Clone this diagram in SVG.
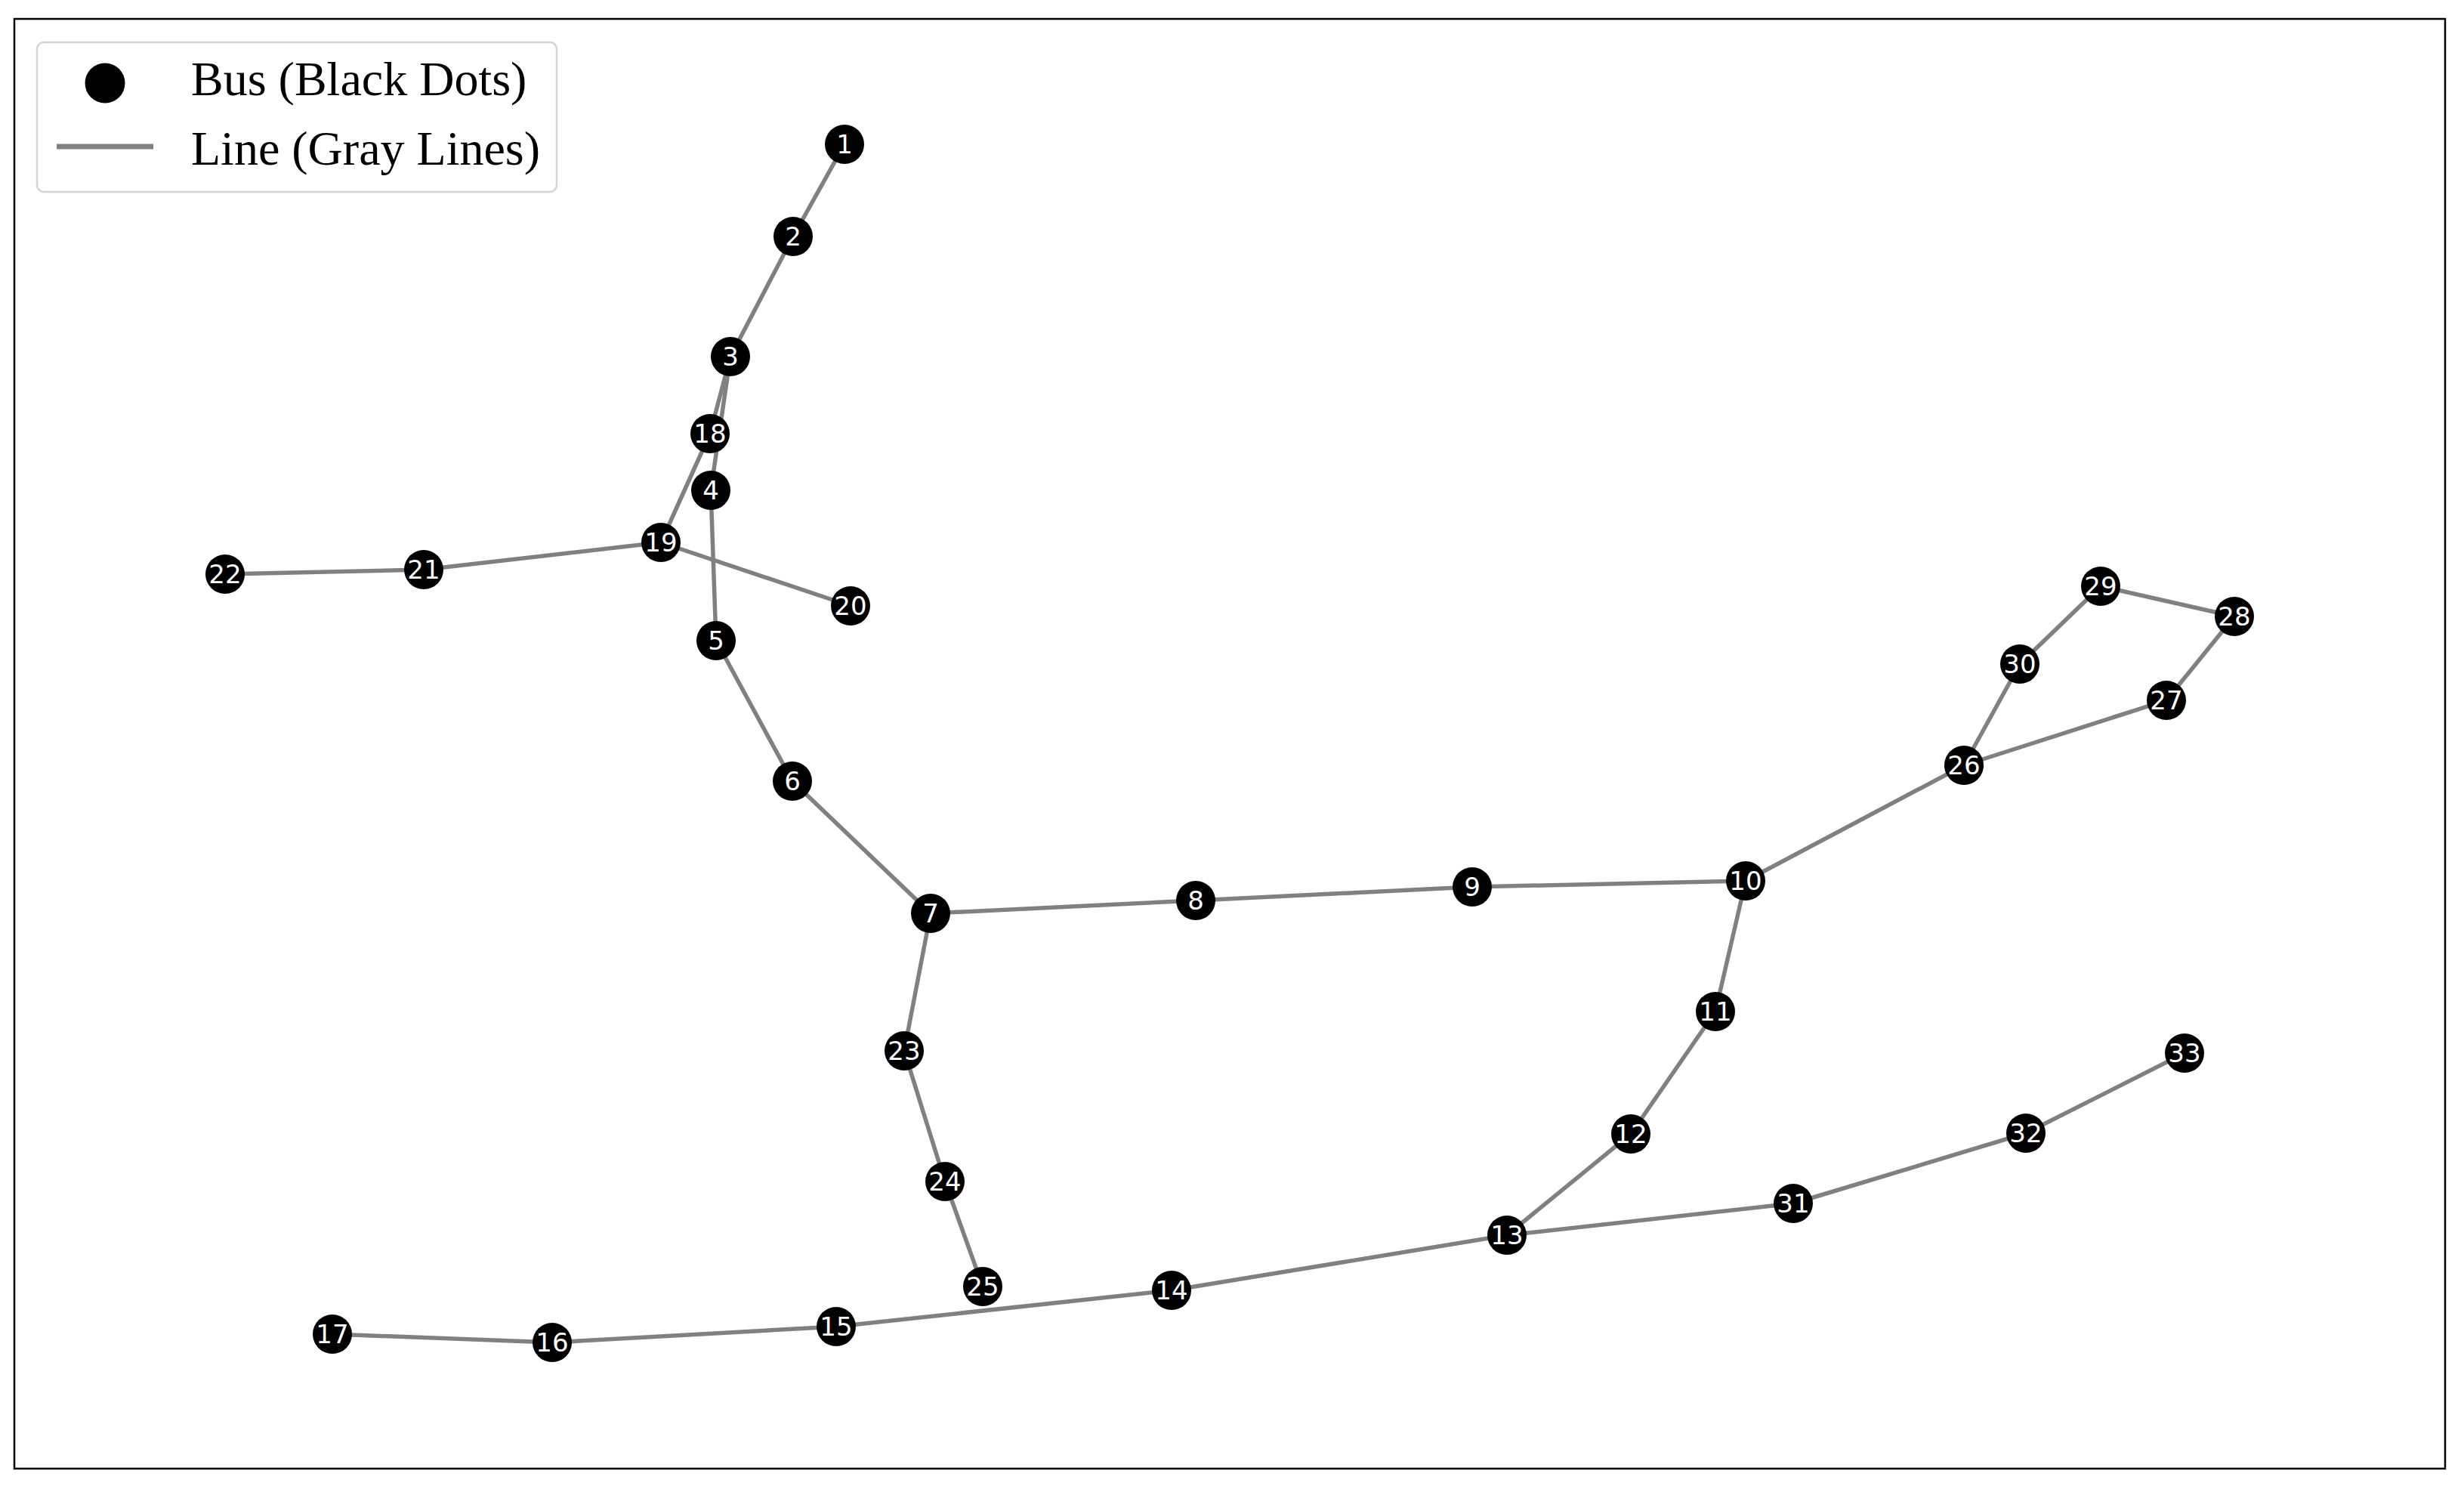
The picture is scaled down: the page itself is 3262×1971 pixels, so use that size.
<svg xmlns="http://www.w3.org/2000/svg" width="3262" height="1971" viewBox="0 0 3262 1971">
<style>
.e{stroke:#808080;stroke-width:5.5;fill:none;stroke-linecap:butt}
.n circle{fill:#000}
.n text{fill:#fff;font-family:"DejaVu Sans",sans-serif;font-size:34px;text-anchor:middle}
.lg{font-family:"Liberation Serif","Times New Roman",serif;font-size:64px;fill:#000}
</style>
<rect x="0" y="0" width="3262" height="1971" fill="#fff"/>
<rect x="19" y="25" width="3218" height="1919" fill="none" stroke="#000" stroke-width="2.5"/>
<g id="connectors">
<line class="e" x1="1118" y1="191" x2="1050" y2="313"/>
<line class="e" x1="1050" y1="313" x2="967" y2="472"/>
<line class="e" x1="967" y1="472" x2="940" y2="574"/>
<line class="e" x1="967" y1="472" x2="941" y2="649"/>
<line class="e" x1="940" y1="574" x2="875" y2="718"/>
<line class="e" x1="941" y1="649" x2="948" y2="848"/>
<line class="e" x1="875" y1="718" x2="1126" y2="802"/>
<line class="e" x1="875" y1="718" x2="561" y2="754"/>
<line class="e" x1="561" y1="754" x2="298" y2="760"/>
<line class="e" x1="948" y1="848" x2="1049" y2="1034"/>
<line class="e" x1="1049" y1="1034" x2="1232" y2="1209"/>
<line class="e" x1="1232" y1="1209" x2="1583" y2="1192"/>
<line class="e" x1="1583" y1="1192" x2="1949" y2="1174"/>
<line class="e" x1="1949" y1="1174" x2="2311" y2="1166"/>
<line class="e" x1="2311" y1="1166" x2="2600" y2="1013"/>
<line class="e" x1="2600" y1="1013" x2="2674" y2="879"/>
<line class="e" x1="2674" y1="879" x2="2781" y2="776"/>
<line class="e" x1="2781" y1="776" x2="2958" y2="816"/>
<line class="e" x1="2958" y1="816" x2="2868" y2="927"/>
<line class="e" x1="2868" y1="927" x2="2600" y2="1013"/>
<line class="e" x1="2311" y1="1166" x2="2271" y2="1339"/>
<line class="e" x1="2271" y1="1339" x2="2159" y2="1501"/>
<line class="e" x1="2159" y1="1501" x2="1995" y2="1635"/>
<line class="e" x1="1995" y1="1635" x2="1551" y2="1708"/>
<line class="e" x1="1551" y1="1708" x2="1107" y2="1756"/>
<line class="e" x1="1107" y1="1756" x2="731" y2="1777"/>
<line class="e" x1="731" y1="1777" x2="440" y2="1766"/>
<line class="e" x1="1995" y1="1635" x2="2374" y2="1593"/>
<line class="e" x1="2374" y1="1593" x2="2682" y2="1500"/>
<line class="e" x1="2682" y1="1500" x2="2892" y2="1394"/>
<line class="e" x1="1232" y1="1209" x2="1197" y2="1391"/>
<line class="e" x1="1197" y1="1391" x2="1251" y2="1564"/>
<line class="e" x1="1251" y1="1564" x2="1301" y2="1703"/>
</g>
<g id="n1" class="n"><circle cx="1118" cy="191" r="26"/><text x="1118" y="203">1</text></g>
<g id="n2" class="n"><circle cx="1050" cy="313" r="26"/><text x="1050" y="325">2</text></g>
<g id="n3" class="n"><circle cx="967" cy="472" r="26"/><text x="967" y="484">3</text></g>
<g id="n18" class="n"><circle cx="940" cy="574" r="26"/><text x="940" y="586">18</text></g>
<g id="n4" class="n"><circle cx="941" cy="649" r="26"/><text x="941" y="661">4</text></g>
<g id="n19" class="n"><circle cx="875" cy="718" r="26"/><text x="875" y="730">19</text></g>
<g id="n20" class="n"><circle cx="1126" cy="802" r="26"/><text x="1126" y="814">20</text></g>
<g id="n21" class="n"><circle cx="561" cy="754" r="26"/><text x="561" y="766">21</text></g>
<g id="n22" class="n"><circle cx="298" cy="760" r="26"/><text x="298" y="772">22</text></g>
<g id="n5" class="n"><circle cx="948" cy="848" r="26"/><text x="948" y="860">5</text></g>
<g id="n6" class="n"><circle cx="1049" cy="1034" r="26"/><text x="1049" y="1046">6</text></g>
<g id="n7" class="n"><circle cx="1232" cy="1209" r="26"/><text x="1232" y="1221">7</text></g>
<g id="n8" class="n"><circle cx="1583" cy="1192" r="26"/><text x="1583" y="1204">8</text></g>
<g id="n9" class="n"><circle cx="1949" cy="1174" r="26"/><text x="1949" y="1186">9</text></g>
<g id="n10" class="n"><circle cx="2311" cy="1166" r="26"/><text x="2311" y="1178">10</text></g>
<g id="n11" class="n"><circle cx="2271" cy="1339" r="26"/><text x="2271" y="1351">11</text></g>
<g id="n12" class="n"><circle cx="2159" cy="1501" r="26"/><text x="2159" y="1513">12</text></g>
<g id="n13" class="n"><circle cx="1995" cy="1635" r="26"/><text x="1995" y="1647">13</text></g>
<g id="n14" class="n"><circle cx="1551" cy="1708" r="26"/><text x="1551" y="1720">14</text></g>
<g id="n15" class="n"><circle cx="1107" cy="1756" r="26"/><text x="1107" y="1768">15</text></g>
<g id="n16" class="n"><circle cx="731" cy="1777" r="26"/><text x="731" y="1789">16</text></g>
<g id="n17" class="n"><circle cx="440" cy="1766" r="26"/><text x="440" y="1778">17</text></g>
<g id="n23" class="n"><circle cx="1197" cy="1391" r="26"/><text x="1197" y="1403">23</text></g>
<g id="n24" class="n"><circle cx="1251" cy="1564" r="26"/><text x="1251" y="1576">24</text></g>
<g id="n25" class="n"><circle cx="1301" cy="1703" r="26"/><text x="1301" y="1715">25</text></g>
<g id="n26" class="n"><circle cx="2600" cy="1013" r="26"/><text x="2600" y="1025">26</text></g>
<g id="n27" class="n"><circle cx="2868" cy="927" r="26"/><text x="2868" y="939">27</text></g>
<g id="n28" class="n"><circle cx="2958" cy="816" r="26"/><text x="2958" y="828">28</text></g>
<g id="n29" class="n"><circle cx="2781" cy="776" r="26"/><text x="2781" y="788">29</text></g>
<g id="n30" class="n"><circle cx="2674" cy="879" r="26"/><text x="2674" y="891">30</text></g>
<g id="n31" class="n"><circle cx="2374" cy="1593" r="26"/><text x="2374" y="1605">31</text></g>
<g id="n32" class="n"><circle cx="2682" cy="1500" r="26"/><text x="2682" y="1512">32</text></g>
<g id="n33" class="n"><circle cx="2892" cy="1394" r="26"/><text x="2892" y="1406">33</text></g>
<g id="legend">
<rect x="49" y="56" width="688" height="198" rx="9" fill="#fff" fill-opacity="0.8" stroke="#d4d4d4" stroke-width="2.5"/>
<circle cx="139" cy="110" r="26.5" fill="#000"/>
<line x1="75" y1="194" x2="203" y2="194" stroke="#808080" stroke-width="7"/>
<text class="lg" x="253" y="126">Bus (Black Dots)</text>
<text class="lg" x="253" y="218">Line (Gray Lines)</text>
</g>
</svg>
